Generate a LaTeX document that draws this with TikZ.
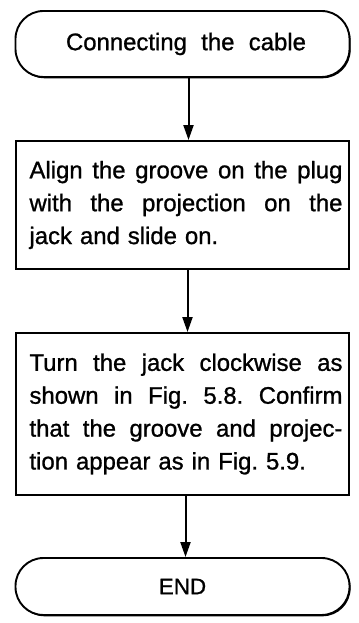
\documentclass[tikz,border=0pt]{standalone}
\usepackage{fontspec}
\setmainfont{Liberation Sans}[FakeBold=1.0]
\usetikzlibrary{arrows.meta,shadows}
\frenchspacing
\tikzset{
  every node/.style={font=\fontsize{24}{33}\selectfont\frenchspacing},
  outline/.style={draw=black, line width=1.9bp, fill=white,
    drop shadow={shadow xshift=1.1bp, shadow yshift=-1.3bp, fill=black, opacity=1}},
  terminal/.style={outline, rounded corners=28bp, minimum width=334bp, inner sep=0pt},
  stepbox/.style={outline, minimum width=333bp, text width=320bp, inner xsep=6.5bp, inner ysep=0pt, align=left},
  arr/.style={line width=2bp, -{Triangle[length=15bp,width=10bp]}}
}
\newcommand{\jline}[1]{{\spaceskip=0pt\xspaceskip=0pt\hspace*{7bp}\makebox[313bp][s]{#1}}}
\newcommand{\lline}[1]{\hspace*{7bp}#1}
\begin{document}
\begin{tikzpicture}[x=1bp,y=1bp]
\useasboundingbox (0,0) rectangle (358,623);
\node[terminal, minimum height=66bp] (start) at (182.5,579) {\hspace*{7bp}\makebox[240bp][s]{Connecting the cable}};
\node[stepbox, minimum height=128bp] (box1) at (182.5,418) {\jline{Align the groove on the plug}\\\jline{with the projection on the}\\\lline{jack and slide on.}};
\node[stepbox, minimum height=162bp] (box2) at (182.5,209) {\jline{Turn the jack clockwise as}\\\jline{shown in Fig. 5.8. Confirm}\\\jline{that the groove and projec-}\\\lline{tion appear as in Fig. 5.9.}};
\node[terminal, minimum height=57bp, font=\fontsize{22.5}{27}\selectfont] (end) at (182.5,36.5) {END};
\draw[arr] ([xshift=6bp]start.south) -- ([xshift=6bp]box1.north);
\draw[arr] ([xshift=5bp]box1.south) -- ([xshift=5bp]box2.north);
\draw[arr] ([xshift=3bp]box2.south) -- ([xshift=3bp]end.north);
\end{tikzpicture}
\end{document}
